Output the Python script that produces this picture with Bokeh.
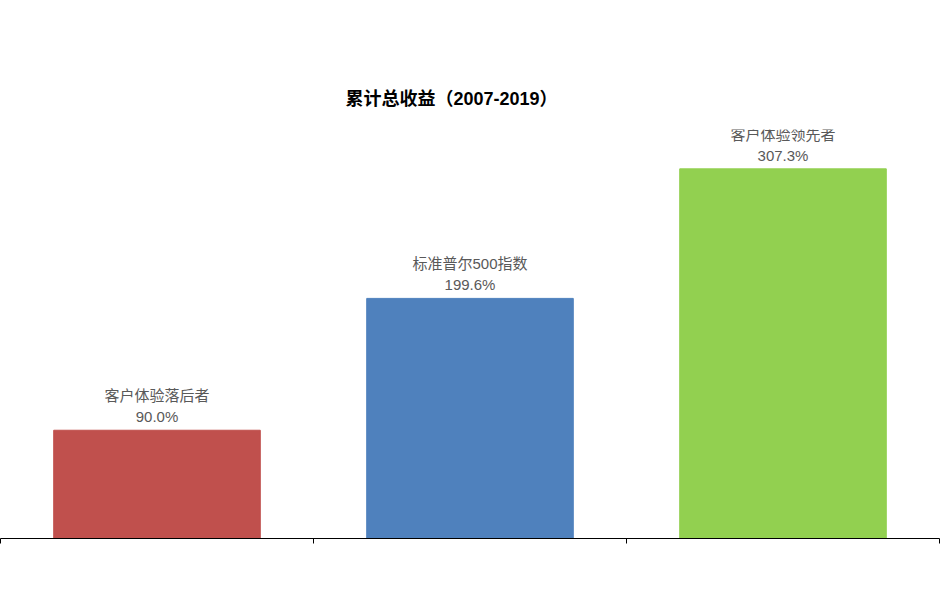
from bokeh.plotting import figure
from bokeh.models import Range1d, FixedTicker, ColumnDataSource
from bokeh.core.properties import value
from bokeh.embed import file_html
from bokeh.resources import INLINE

categories = ["客户体验落后者", "标准普尔500指数", "客户体验领先者"]
returns = [90.0, 199.6, 307.3]
colors = ["#C0504D", "#4F81BD", "#92D050"]
positions = [0.5, 1.5, 2.5]
boundaries = [0, 1, 2, 3]
value_labels = [f"{v:.1f}%" for v in returns]

src = ColumnDataSource(dict(x=positions, top=returns, color=colors,
                            cat=categories, lab=value_labels))

FONT = "Liberation Sans, Noto Sans CJK SC, sans-serif"

p = figure(width=942, height=588, output_backend="svg", toolbar_location=None,
           x_range=Range1d(0, 3), y_range=Range1d(0, 340),
           min_border_left=0, min_border_right=3, min_border_top=129,
           min_border_bottom=50, title="累计总收益（2007-2019）")
p.title.text_font = FONT
p.title.text_font_size = "18px"
p.title.text_font_style = "bold"
p.title.text_color = "#000000"
p.title.align = "left"
p.title.offset = 345
p.title.standoff = 42

p.vbar(x="x", top="top", width=0.66, color="color", source=src)
p.text(x="x", y="top", text="lab", source=src, text_align="center",
       text_baseline="bottom", y_offset=-5, text_font=value(FONT),
       text_font_size="15px", text_color="#595959")
p.text(x="x", y="top", text="cat", source=src, text_align="center",
       text_baseline="bottom", y_offset=-26, text_font=value(FONT),
       text_font_size="15px", text_color="#595959")

p.yaxis.visible = False
p.xgrid.visible = False
p.ygrid.visible = False
p.outline_line_color = None
p.xaxis.ticker = FixedTicker(ticks=boundaries)
p.xaxis.major_label_overrides = {b: " " for b in boundaries}
p.xaxis.major_label_text_font_size = "4px"
p.xaxis.major_label_text_color = None
p.xaxis.major_tick_in = 0
p.xaxis.major_tick_out = 5
p.xaxis.minor_tick_line_color = None
p.xaxis.axis_line_color = "#000000"
p.xaxis.major_tick_line_color = "#000000"

open("out.html", "w").write(file_html(p, INLINE))
